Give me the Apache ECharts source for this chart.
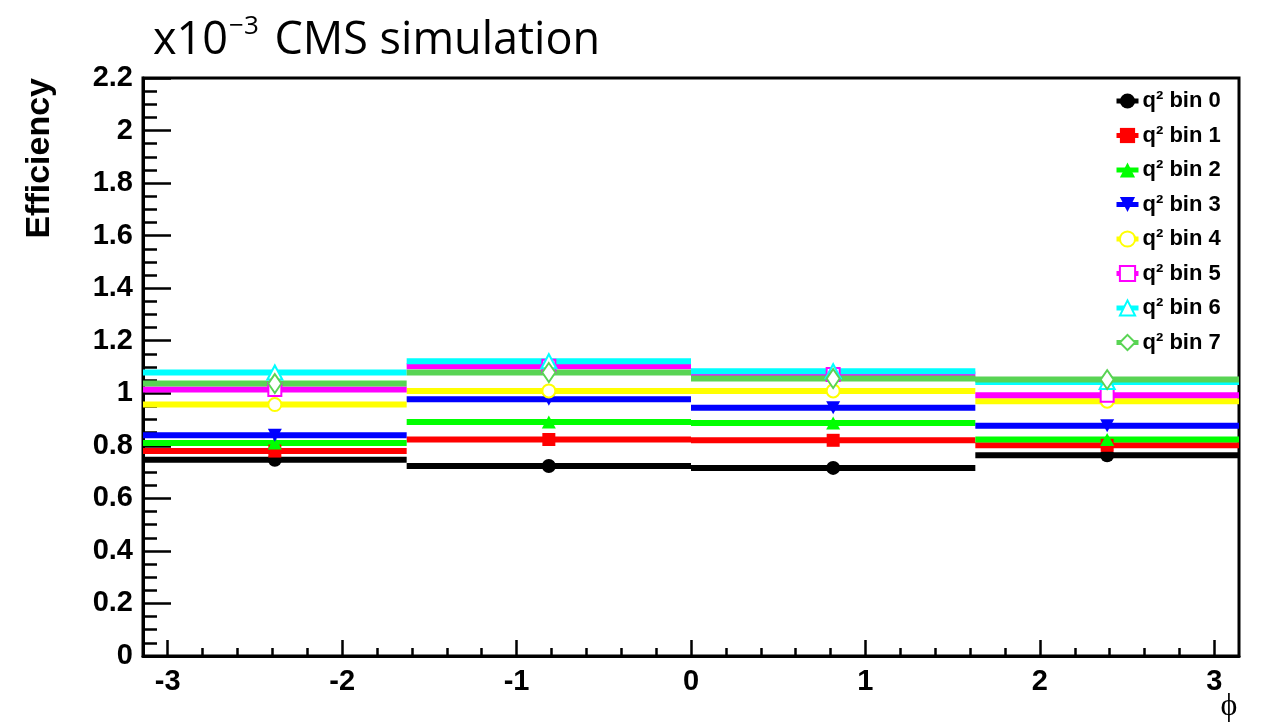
<!DOCTYPE html>
<html><head><meta charset="utf-8">
<script src="https://cdn.jsdelivr.net/npm/echarts@6/dist/echarts.min.js"></script>
<style>html,body{margin:0;padding:0;background:#fff}#c{width:1264px;height:723px}</style>
</head><body><div id="c"></div>
<script>
// ---- data ----
const binEdges = [-3.1416, -1.63, 0, 1.63, 3.1416];
const seriesNames = ['q² bin 0','q² bin 1','q² bin 2','q² bin 3','q² bin 4','q² bin 5','q² bin 6','q² bin 7'];
const bin0 = [0.747, 0.723, 0.716, 0.764];
const bin1 = [0.780, 0.824, 0.821, 0.802];
const bin2 = [0.811, 0.891, 0.887, 0.824];
const bin3 = [0.840, 0.977, 0.945, 0.876];
const bin4 = [0.957, 1.009, 1.009, 0.970];
const bin5 = [1.014, 1.103, 1.071, 0.992];
const bin6 = [1.079, 1.122, 1.084, 1.043];
const bin7 = [1.037, 1.079, 1.056, 1.052];
const xTickLabels = [-3, -2, -1, 0, 1, 2, 3];
const xMinorTicks = [-3.0,-2.8,-2.6,-2.4,-2.2,-2.0,-1.8,-1.6,-1.4,-1.2,-1.0,-0.8,-0.6,-0.4,-0.2,0,0.2,0.4,0.6,0.8,1.0,1.2,1.4,1.6,1.8,2.0,2.2,2.4,2.6,2.8,3.0];
const yMin = 0, yMax = 2.2, yStep = 0.2;

// ---- styles ----
const allValues = [bin0, bin1, bin2, bin3, bin4, bin5, bin6, bin7];
const colors = ['#000000','#ff0000','#00ff00','#0000ff','#ffff00','#ff00ff','#00ffff','#59d454'];
const symbols = ['circle','rect','triangle','triangle','emptyCircle','emptyRect','emptyTriangle','emptyDiamond'];
const symbolSizes = [14, 13, [14,13], [14,13], 13, 13, [15,14], [13,19]];
const symbolRotates = [0,0,0,180,0,0,0,0];

// each bin: horizontal bar from low edge to high edge, marker at centre, break between bins
function buildData(vals) {
  const d = [];
  for (let i = 0; i < vals.length; i++) {
    const c = (binEdges[i] + binEdges[i+1]) / 2;
    d.push({ value: [binEdges[i], vals[i]], symbol: 'none' });
    d.push({ value: [c, vals[i]] });
    d.push({ value: [binEdges[i+1], vals[i]], symbol: 'none' });
    if (i < vals.length - 1) d.push({ value: [binEdges[i+1], '-'], symbol: 'none' });
  }
  return d;
}

const series = allValues.map((vals, k) => ({
  name: seriesNames[k],
  type: 'line',
  xAxisIndex: 0,
  data: buildData(vals),
  connectNulls: false,
  symbol: symbols[k],
  symbolSize: symbolSizes[k],
  symbolRotate: symbolRotates[k],
  showAllSymbol: true,
  color: colors[k],
  lineStyle: { color: colors[k], width: 6, cap: 'butt' },
  itemStyle: { color: colors[k], borderColor: colors[k], borderWidth: symbols[k].indexOf('empty') === 0 ? 3 : 0 },
  emphasis: { disabled: true },
  animation: false
}));

const chart = echarts.init(document.getElementById('c'));
chart.setOption({
  animation: false,
  backgroundColor: '#fff',
  title: {
    text: '{a|x10}{s|−3}{a| CMS simulation}',
    left: 148, top: 9,
    textStyle: { fontWeight: 'normal', rich: {
      a: { fontFamily: 'Open Sans', fontWeight: 'normal', fontSize: 45, color: '#000', verticalAlign: 'bottom' },
      s: { fontFamily: 'Open Sans', fontWeight: 'normal', fontSize: 26, color: '#000', verticalAlign: 'top', padding: [0,4,24,1] }
    } }
  },
  grid: { left: 143, right: 25, top: 78, bottom: 67, show: true, borderColor: '#000', borderWidth: 3, containLabel: false },
  legend: {
    orient: 'vertical', left: 1109, top: 85,
    itemWidth: 22, itemHeight: 19, itemGap: 12.5,
    lineStyle: { width: 5 },
    textStyle: { fontFamily: 'Liberation Sans', fontWeight: 'bold', fontSize: 22, color: '#000', lineHeight: 19, padding: [0,0,0,-1] },
    data: seriesNames,
    selectedMode: false
  },
  xAxis: [{
    type: 'value', min: binEdges[0], max: binEdges[binEdges.length-1], position: 'bottom',
    splitLine: { show: false },
    axisLine: { show: true, onZero: false, lineStyle: { color: '#000', width: 3 } },
    axisTick: { show: true, inside: true, length: 16, customValues: xTickLabels, lineStyle: { color: '#000', width: 2.5 } },
    axisLabel: { customValues: xTickLabels, margin: 11, fontFamily: 'Liberation Sans', fontWeight: 'bold', fontSize: 29, color: '#000',
      formatter: v => String(Math.round(v)) }
  }, {
    type: 'value', min: binEdges[0], max: binEdges[binEdges.length-1], position: 'bottom', offset: 0,
    splitLine: { show: false },
    axisLine: { show: false, onZero: false },
    axisTick: { show: true, inside: true, length: 8, customValues: xMinorTicks, lineStyle: { color: '#000', width: 2.5 } },
    axisLabel: { show: false }
  }],
  yAxis: {
    type: 'value', min: yMin, max: yMax, interval: yStep,
    splitLine: { show: false },
    axisLine: { show: true, onZero: false, lineStyle: { color: '#000', width: 3 } },
    axisTick: { show: true, inside: true, length: 28, lineStyle: { color: '#000', width: 2.5 } },
    minorTick: { show: true, splitNumber: 4, length: 14, lineStyle: { color: '#000', width: 2.5 } },
    axisLabel: { margin: 10, fontFamily: 'Liberation Sans', fontWeight: 'bold', fontSize: 29, color: '#000' }
  },
  graphic: [
    { type: 'text', x: 40, y: 78, rotation: Math.PI/2,
      style: { text: 'Efficiency', fontFamily: 'Liberation Sans', fontWeight: 'bold', fontSize: 34, fill: '#000', align: 'right', verticalAlign: 'middle' } },
    { type: 'text', x: 1229, y: 707,
      style: { text: 'ϕ', fontFamily: 'Liberation Serif', fontSize: 32, fill: '#000', align: 'center', verticalAlign: 'middle' } }
  ],
  series: series
});
</script>
</body></html>
